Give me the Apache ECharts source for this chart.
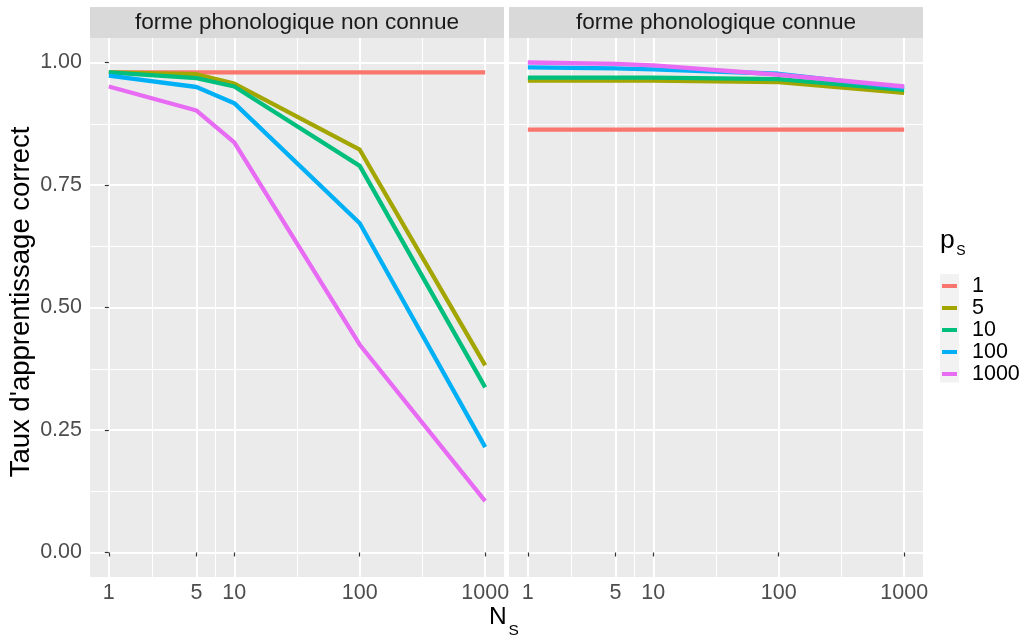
<!DOCTYPE html>
<html>
<head>
<meta charset="utf-8">
<script src="https://cdn.jsdelivr.net/npm/echarts@6/dist/echarts.min.js"></script>
<style>html,body{margin:0;padding:0;background:#fff}#c{width:1025px;height:637px}</style>
</head>
<body>
<div id="c"></div>
<script>
// ---- data ----
const nsValues = [1, 5, 10, 100, 1000];
const psLevels = ['1', '5', '10', '100', '1000'];
const panelTitles = ['forme phonologique non connue', 'forme phonologique connue'];
// panel 1: forme phonologique non connue
const unknownPs1    = [0.980, 0.980, 0.980, 0.980, 0.980];
const unknownPs5    = [0.980, 0.976, 0.957, 0.822, 0.382];
const unknownPs10   = [0.980, 0.968, 0.951, 0.789, 0.337];
const unknownPs100  = [0.973, 0.950, 0.917, 0.672, 0.215];
const unknownPs1000 = [0.951, 0.902, 0.837, 0.424, 0.105];
// panel 2: forme phonologique connue
const knownPs1    = [0.863, 0.863, 0.863, 0.863, 0.863];
const knownPs5    = [0.963, 0.963, 0.963, 0.960, 0.938];
const knownPs10   = [0.969, 0.969, 0.969, 0.966, 0.944];
const knownPs100  = [0.990, 0.988, 0.986, 0.977, 0.948];
const knownPs1000 = [1.000, 0.997, 0.994, 0.975, 0.951];
// ticks
const xTickLabels = [1, 5, 10, 100, 1000];
const yTickValues = [0, 0.25, 0.5, 0.75, 1];
const yTickLabels = ['0.00', '0.25', '0.50', '0.75', '1.00'];

// ---- styling ----
const colors = ['#F8766D', '#A3A500', '#00BF7D', '#00B0F6', '#E76BF3'];
const FONT = '"Liberation Sans", Arial, sans-serif';
const SMALL = 21.5;
const STRIP = 22.6;
const TITLE = 27.5;
const panelBg = '#EBEBEB';
const stripBg = '#D9D9D9';

const xMajor = xTickLabels.map(v => Math.log10(v));
const xMinor = [];
for (let i = 0; i < xMajor.length - 1; i++) xMinor.push((xMajor[i] + xMajor[i + 1]) / 2);
const yMinor = [];
for (let i = 0; i < yTickValues.length - 1; i++) yMinor.push((yTickValues[i] + yTickValues[i + 1]) / 2);

const X_MIN = -0.15, X_MAX = 3.15, Y_MIN = -0.05, Y_MAX = 1.05;

const grids = [
  { left: 90, top: 38, width: 414, height: 539 },
  { left: 509, top: 38, width: 414, height: 539 }
];

const panels = [
  [unknownPs1, unknownPs5, unknownPs10, unknownPs100, unknownPs1000],
  [knownPs1, knownPs5, knownPs10, knownPs100, knownPs1000]
];

const xAxes = [], yAxes = [], series = [];
grids.forEach((g, gi) => {
  xAxes.push({
    type: 'value', gridIndex: gi, min: X_MIN, max: X_MAX,
    axisLine: { show: false },
    axisTick: { show: true, length: 4, lineStyle: { color: '#333333', width: 1.2 }, customValues: xMajor },
    axisLabel: {
      show: true, customValues: xMajor, margin: 5,
      color: '#4D4D4D', fontSize: SMALL, fontFamily: FONT,
      formatter: v => String(Math.round(Math.pow(10, v)))
    },
    splitLine: { show: true, lineStyle: { color: '#FFFFFF', width: 2 } }
  });
  yAxes.push({
    type: 'value', gridIndex: gi, min: Y_MIN, max: Y_MAX,
    axisLine: { show: false },
    axisTick: { show: gi === 0, length: 4, lineStyle: { color: '#333333', width: 1.2 }, customValues: yTickValues },
    axisLabel: {
      show: gi === 0, customValues: yTickValues, margin: 8,
      color: '#4D4D4D', fontSize: SMALL, fontFamily: FONT,
      formatter: v => yTickLabels[yTickValues.findIndex(t => Math.abs(t - v) < 1e-9)] || ''
    },
    splitLine: { show: true, lineStyle: { color: '#FFFFFF', width: 2 } }
  });
});
// minor gridline axes
grids.forEach((g, gi) => {
  xAxes.push({
    type: 'value', gridIndex: gi, min: X_MIN, max: X_MAX, z: 0,
    axisLine: { show: false },
    axisTick: { show: false, customValues: xMinor },
    axisLabel: { show: false, customValues: xMinor },
    splitLine: { show: true, lineStyle: { color: '#FFFFFF', width: 1 } }
  });
  yAxes.push({
    type: 'value', gridIndex: gi, min: Y_MIN, max: Y_MAX, z: 0,
    axisLine: { show: false },
    axisTick: { show: false, customValues: yMinor },
    axisLabel: { show: false, customValues: yMinor },
    splitLine: { show: true, lineStyle: { color: '#FFFFFF', width: 1 } }
  });
});

panels.forEach((vals, gi) => {
  vals.forEach((arr, si) => {
    series.push({
      name: psLevels[si], type: 'line',
      xAxisIndex: gi, yAxisIndex: gi,
      data: nsValues.map((n, i) => [Math.log10(n), arr[i]]),
      showSymbol: false, symbol: 'none', smooth: false,
      lineStyle: { color: colors[si], width: 4.3, join: 'round', cap: 'butt' },
      itemStyle: { color: colors[si] },
      z: 5 + si, animation: false, silent: true
    });
  });
});

const graphics = [];
grids.forEach((g, gi) => {
  graphics.push({
    type: 'rect', left: g.left, top: 7, z: 1,
    shape: { width: g.width, height: 31 },
    style: { fill: stripBg }
  });
  graphics.push({
    type: 'text', x: g.left + g.width / 2, y: 23, z: 2,
    style: { text: panelTitles[gi], fill: '#1A1A1A', font: STRIP + 'px ' + FONT, align: 'center', verticalAlign: 'middle' }
  });
});
// y axis title
graphics.push({
  type: 'text', x: 21, y: 302, rotation: Math.PI / 2, z: 2,
  style: { text: "Taux d'apprentissage correct", fill: '#000', font: TITLE + 'px ' + FONT, align: 'center', verticalAlign: 'middle' }
});
// x axis title N_S
graphics.push({
  type: 'text', x: 489, y: 617.5, z: 2,
  style: { text: 'N', fill: '#000', font: '24.5px ' + FONT, align: 'left', verticalAlign: 'middle' }
});
graphics.push({
  type: 'text', x: 508.5, y: 630.5, z: 2,
  style: { text: 'S', fill: '#000', font: '15.5px ' + FONT, align: 'left', verticalAlign: 'middle' }
});
// legend title p_S
graphics.push({
  type: 'text', x: 940, y: 241, z: 2,
  style: { text: 'p', fill: '#000', font: '26.5px ' + FONT, align: 'left', verticalAlign: 'middle' }
});
graphics.push({
  type: 'text', x: 956.3, y: 251.2, z: 2,
  style: { text: 'S', fill: '#000', font: '14px ' + FONT, align: 'left', verticalAlign: 'middle' }
});
// legend key background
graphics.push({
  type: 'rect', left: 940, top: 274, z: 0,
  shape: { width: 19, height: 108.5 },
  style: { fill: '#F2F2F2' }
});

const option = {
  backgroundColor: '#FFFFFF',
  animation: false,
  grid: grids.map(g => Object.assign({ show: true, backgroundColor: panelBg, borderWidth: 0, containLabel: false }, g)),
  xAxis: xAxes,
  yAxis: yAxes,
  series: series,
  legend: {
    data: psLevels, orient: 'vertical', left: 942, top: 275,
    itemWidth: 15, itemHeight: 4, itemGap: 0, padding: 0,
    selectedMode: false, icon: 'rect',
    textStyle: { fontSize: SMALL, fontFamily: FONT, color: '#000', lineHeight: 21.7, padding: [0, 0, 0, 10] }
  },
  graphic: graphics
};

const chart = echarts.init(document.getElementById('c'), null, { renderer: 'canvas' });
chart.setOption(option);
</script>
</body>
</html>
